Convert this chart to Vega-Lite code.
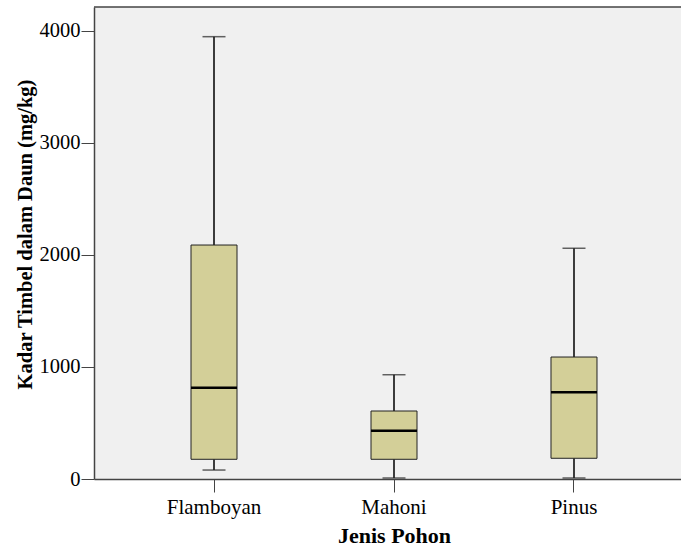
{
  "$schema": "https://vega.github.io/schema/vega-lite/v6.json",
  "autosize": "none",
  "padding": {"left": 94, "top": 7, "right": 0, "bottom": 73},
  "width": 587,
  "height": 472,
  "background": "white",
  "config": {
    "view": {"stroke": null, "fill": "#f0f0f0"},
    "font": "Times New Roman, Liberation Serif, serif",
    "axis": {
      "labelFont": "Times New Roman, Liberation Serif, serif",
      "titleFont": "Times New Roman, Liberation Serif, serif"
    }
  },
  "datasets": {
    "box": [
      {"jenis": "Flamboyan", "min": 80, "q1": 176, "median": 815, "q3": 2089, "max": 3949},
      {"jenis": "Mahoni", "min": 9, "q1": 176, "median": 431, "q3": 607, "max": 931},
      {"jenis": "Pinus", "min": 9, "q1": 185, "median": 774, "q3": 1089, "max": 2060}
    ],
    "frame": [{"top": 4214}]
  },
  "layer": [
    {
      "data": {"name": "box"},
      "encoding": {
        "x": {
          "field": "jenis",
          "type": "nominal",
          "sort": ["Flamboyan", "Mahoni", "Pinus"],
          "scale": {"range": [0, 600], "paddingInner": 0.2, "paddingOuter": 0.2667},
          "axis": {
            "title": "Jenis Pohon",
            "titleFontSize": 22,
            "titleFontWeight": "bold",
            "titleColor": "black",
            "titlePadding": 8,
            "titleX": 300,
            "labelFontSize": 21,
            "labelColor": "black",
            "labelAngle": 0,
            "labelPadding": 4,
            "tickSize": 13,
            "tickColor": "#444",
            "domainColor": "#444",
            "domainWidth": 1.5
          }
        }
      },
      "layer": [
        {
          "mark": {"type": "rule", "color": "black", "strokeWidth": 1.5},
          "encoding": {
            "y": {
              "field": "min",
              "type": "quantitative",
              "scale": {"domain": [0, 4214], "nice": false, "zero": true},
              "axis": {
                "title": "Kadar Timbel dalam Daun (mg/kg)",
                "titleFontSize": 20.5,
                "titleFontWeight": "bold",
                "titleColor": "black",
                "titlePadding": 4,
                "titleY": 227,
                "values": [0, 1000, 2000, 3000, 4000],
                "format": "d",
                "grid": false,
                "labelFontSize": 20.5,
                "labelColor": "black",
                "labelPadding": 1,
                "tickSize": 13,
                "tickColor": "#444",
                "domainColor": "#444",
                "domainWidth": 1.5
              }
            },
            "y2": {"field": "q1"}
          }
        },
        {
          "mark": {"type": "rule", "color": "black", "strokeWidth": 1.5},
          "encoding": {
            "y": {"field": "q3", "type": "quantitative"},
            "y2": {"field": "max"}
          }
        },
        {
          "mark": {"type": "tick", "color": "#222", "size": 23, "thickness": 1.5},
          "encoding": {"y": {"field": "min", "type": "quantitative"}}
        },
        {
          "mark": {"type": "tick", "color": "#222", "size": 23, "thickness": 1.5},
          "encoding": {"y": {"field": "max", "type": "quantitative"}}
        },
        {
          "mark": {"type": "bar", "size": 46, "fill": "#d3cf98", "stroke": "#222", "strokeWidth": 1},
          "encoding": {
            "y": {"field": "q1", "type": "quantitative"},
            "y2": {"field": "q3"}
          }
        },
        {
          "mark": {"type": "tick", "color": "black", "size": 46, "thickness": 2.5, "opacity": 1},
          "encoding": {"y": {"field": "median", "type": "quantitative"}}
        }
      ]
    },
    {
      "data": {"name": "frame"},
      "mark": {"type": "rule", "color": "#444", "strokeWidth": 1.5},
      "encoding": {"y": {"field": "top", "type": "quantitative"}}
    }
  ]
}
